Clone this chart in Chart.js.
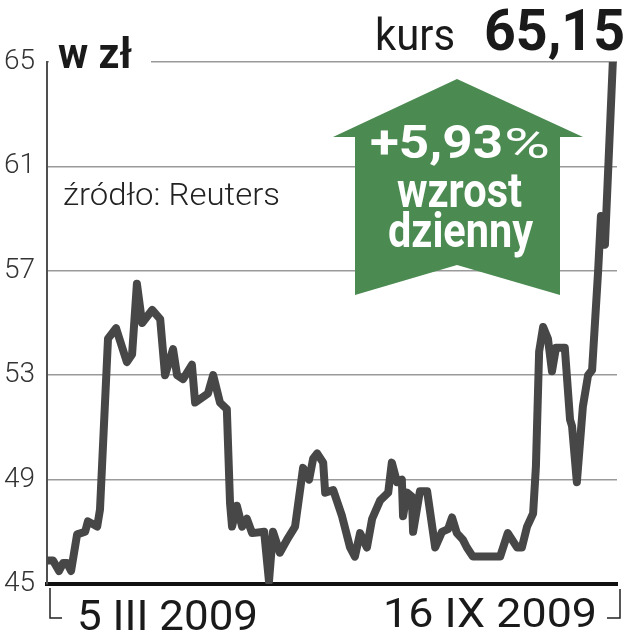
<!DOCTYPE html>
<html>
<head>
<meta charset="utf-8">
<script src="https://cdn.jsdelivr.net/npm/chart.js@4/dist/chart.umd.min.js"></script>
<style>
  html, body { margin: 0; padding: 0; background: #fff; }
  #wrap { width: 629px; height: 640px; }
</style>
</head>
<body>
<div id="wrap"><canvas id="c" width="629" height="640"></canvas></div>
<script>
// ---- data ----
const sessionX = [0,1.5,3,4,5,6,7.5,9.5,10.2,12.5,13.2,15.2,17.2,19.9,21.2,22.4,23.7,26.2,28.2,29.4,
  31.4,32.4,33.9,36.1,36.9,40.1,41.4,43.1,44.8,45.6,46.1,47.3,48.6,49.8,51.1,54.1,55.3,56.3,58,60,
  61.8,63.8,65.3,66.3,67.3,68.8,69.3,71.3,73.5,75.5,76.7,78,79.7,81,83,85,85.9,87.2,88.4,88.7,
  89.7,90.9,91.2,92.9,94.7,96.2,96.7,98.4,99.9,100.9,102.1,103.6,104.6,106.1,112.9,114.8,117.1,118.3,119.6,121.1,
  121.8,122.6,123.6,124.8,125.8,126.8,129,130.3,130.8,132,133.5,134.8,135.8,137.3,138,139,141];
const closePrice = [45.9,45.9,45.5,45.8,45.8,45.5,46.9,47.0,47.4,47.2,47.85,54.4,54.8,53.5,53.8,56.5,55.0,55.5,55.15,53.0,
  54.0,53.0,52.85,53.4,51.95,52.3,53.0,51.95,51.7,48.1,47.2,48.0,47.2,47.5,46.95,47.0,45.1,47.0,46.2,46.75,
  47.2,49.45,49.0,49.8,50.0,49.65,48.5,48.6,47.6,46.4,46.05,46.95,46.4,47.5,48.2,48.5,49.65,48.9,49.0,47.6,
  48.5,48.35,47.0,48.55,48.55,46.95,46.4,47.0,47.1,47.55,46.95,46.7,46.4,46.05,46.05,46.95,46.4,46.4,47.2,47.7,
  49.5,53.9,54.85,54.4,53.15,54.05,54.05,51.3,51.05,48.9,51.8,53.0,53.2,57.0,59.1,58.0,65.15];
const yTicks = [45, 49, 53, 57, 61, 65];
const startLabel = "5 III 2009";
const endLabel = "16 IX 2009";
const unitLabel = "w zł";
const sourceLabel = "źródło: Reuters";
const priceLabel = "kurs";
const priceValue = "65,15";
const changeValue = "+5,93";
const changeWords = ["wzrost", "dzienny"];

const points = sessionX.map((x, i) => ({ x: x, y: closePrice[i] }));

function fitText(ctx, text, x, baseline, width, font, color) {
  ctx.save();
  ctx.font = font;
  const w = ctx.measureText(text).width;
  const s = width / w;
  ctx.translate(x, baseline);
  ctx.scale(s, 1);
  ctx.fillStyle = color;
  ctx.textAlign = 'left';
  ctx.textBaseline = 'alphabetic';
  ctx.fillText(text, 0, 0);
  ctx.restore();
}

const decor = {
  id: 'decor',
  beforeDatasetsDraw(chart) {
    const ctx = chart.ctx;
    ctx.save();
    ctx.fillStyle = '#fff';
    ctx.fillRect(49, 54, 102, 14);
    ctx.restore();
  },
  afterDraw(chart) {
    const ctx = chart.ctx;
    const ink = '#1a1a1a';
    // headings
    fitText(ctx, unitLabel, 58, 68, 74, 'bold 42px Roboto', ink);
    fitText(ctx, sourceLabel, 63, 205, 217, '300 32px Roboto', '#222');
    fitText(ctx, priceLabel, 375, 50, 80, '400 45px Roboto', ink);
    fitText(ctx, priceValue, 484, 50, 141, 'bold 57px Roboto', ink);

    // green arrow badge
    ctx.save();
    ctx.fillStyle = '#4b8a51';
    ctx.beginPath();
    ctx.moveTo(457, 79);
    ctx.lineTo(583, 137);
    ctx.lineTo(560, 137);
    ctx.lineTo(560, 295);
    ctx.lineTo(457, 265);
    ctx.lineTo(355, 295);
    ctx.lineTo(355, 137);
    ctx.lineTo(333, 137);
    ctx.closePath();
    ctx.fill();
    ctx.restore();
    fitText(ctx, changeValue, 370, 158, 133, 'bold 46px Roboto', '#fff');
    fitText(ctx, '%', 504, 158, 46, '400 43px Roboto', '#fff');
    fitText(ctx, changeWords[0], 397, 207, 125, 'bold 48px Roboto', '#fff');
    fitText(ctx, changeWords[1], 388, 247, 145, 'bold 48px Roboto', '#fff');

    // bottom date labels and brackets
    fitText(ctx, startLabel, 77, 630, 181, '400 42px Roboto', ink);
    fitText(ctx, endLabel, 383, 627, 214, '400 40px Roboto', ink);
    ctx.save();
    ctx.strokeStyle = '#222';
    ctx.lineWidth = 1.5;
    ctx.beginPath();
    ctx.moveTo(50, 588); ctx.lineTo(50, 618); ctx.lineTo(62, 618);
    ctx.moveTo(607, 618); ctx.lineTo(620, 618); ctx.lineTo(620, 589);
    ctx.stroke();
    ctx.restore();
  }
};

new Chart(document.getElementById('c'), {
  type: 'line',
  data: {
    datasets: [{
      data: points,
      borderColor: '#474747',
      borderWidth: 8,
      pointRadius: 0,
      tension: 0,
      borderJoinStyle: 'round',
      borderCapStyle: 'round',
      fill: false
    }]
  },
  options: {
    responsive: false,
    devicePixelRatio: 1,
    animation: false,
    layout: { padding: { top: 62, right: 12, bottom: 56, left: 0 } },
    plugins: { legend: { display: false }, tooltip: { enabled: false } },
    scales: {
      x: {
        type: 'linear',
        min: 0,
        max: 142,
        ticks: { display: false },
        grid: { display: false, drawTicks: false },
        border: { display: true, color: '#111', width: 4 },
        afterFit: s => { s.height = 0; }
      },
      y: {
        min: 45,
        max: 65,
        afterBuildTicks: s => { s.ticks = yTicks.map(v => ({ value: v })); },
        ticks: {
          padding: 12,
          color: '#333',
          font: { family: 'Roboto', size: 28, weight: '300' }
        },
        grid: { color: '#9a9a9a', lineWidth: 1.5, drawTicks: false },
        border: { display: true, color: '#505050', width: 2 },
        afterFit: s => { s.width = 47; }
      }
    }
  },
  plugins: [decor]
});
</script>
</body>
</html>
